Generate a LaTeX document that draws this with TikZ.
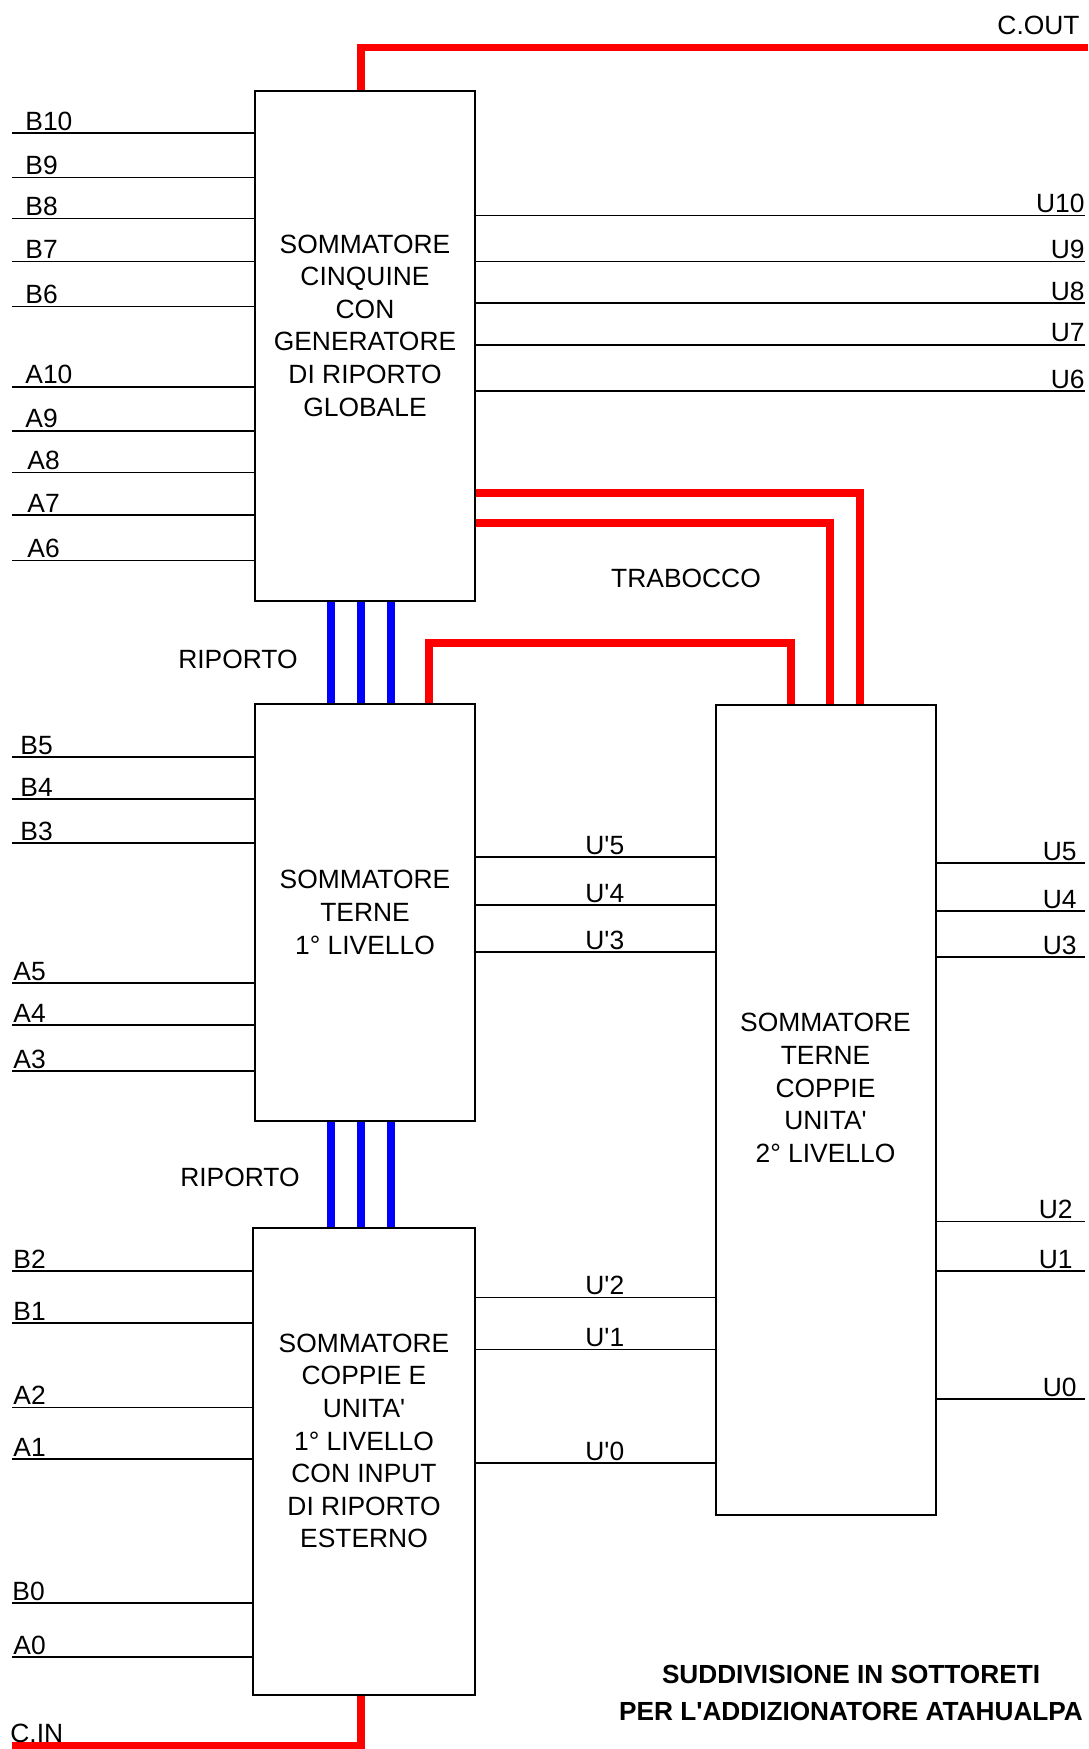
\documentclass[tikz,border=0pt]{standalone}
\usepackage{fontspec}
\setmainfont{Liberation Sans}[Ligatures=TeXOff]
\usetikzlibrary{positioning,calc}
\tikzset{
  blockbox/.style={draw, line width=1pt, minimum width=110pt, inner sep=0pt},
  blocktext/.style={align=center, inner sep=0pt, font=\fontsize{13.2}{16.3}\selectfont},
  wirelab/.style={inner sep=0pt, font=\fontsize{13.2}{14}\selectfont},
  wire/.style={line width=0.75pt},
  carry/.style={draw=red, line width=3.8pt},
  riporto/.style={draw=blue, line width=3.8pt}
}

\begin{document}
\begin{tikzpicture}[x=0.5pt, y=-0.5pt]
\useasboundingbox (0,0) rectangle (1088,1749);

% blocchi
\node[blockbox, minimum height=255pt] (cinq) at (365,346) {};
\node[blocktext] (cinqtxt) at ([yshift=10.25pt]cinq.center) {SOMMATORE\\CINQUINE\\CON\\GENERATORE\\DI RIPORTO\\GLOBALE};
\node[blockbox, minimum height=208.5pt] (terne1) at (365,912.5) {};
\node[blocktext] (terne1txt) at (terne1.center) {SOMMATORE\\TERNE\\1° LIVELLO};
\node[blockbox, minimum width=111pt, minimum height=233.5pt] (coppie1) at (364,1461.5) {};
\node[blocktext] (coppie1txt) at ([yshift=10.25pt]coppie1.center) {SOMMATORE\\COPPIE E\\UNITA'\\1° LIVELLO\\CON INPUT\\DI RIPORTO\\ESTERNO};
\node[blockbox, minimum height=405pt] (terne2) at (825.5,1110) {};
\node[blocktext] (terne2txt) at ([yshift=11pt]terne2.center) {SOMMATORE\\TERNE\\COPPIE\\UNITA'\\2° LIVELLO};

% ingressi A e B
\foreach \lab/\y/\lx in {B10/133.2/25, B9/177.5/25, B8/218.6/25, B7/261.3/25, B6/306.7/25,
    A10/387/25, A9/430.8/25, A8/472.7/27, A7/515/27, A6/560.5/27} {
  \coordinate (w\lab) at (12,\y);
  \draw[wire] (w\lab) -- (w\lab -| cinq.west);
  \node[wirelab, anchor=base west] (l\lab) at (\lx,\y-3) {\lab};
}
\foreach \lab/\y/\lx in {B5/757/20, B4/799/20, B3/843/20, A5/983/13, A4/1025/13, A3/1071/13} {
  \coordinate (w\lab) at (12,\y);
  \draw[wire] (w\lab) -- (w\lab -| terne1.west);
  \node[wirelab, anchor=base west] (l\lab) at (\lx,\y-3) {\lab};
}
\foreach \lab/\y/\lx in {B2/1271/13, B1/1323/13, A2/1407.6/13, A1/1459/13, B0/1603/12, A0/1657/13} {
  \coordinate (w\lab) at (12,\y);
  \draw[wire] (w\lab) -- (w\lab -| coppie1.west);
  \node[wirelab, anchor=base west] (l\lab) at (\lx,\y-3) {\lab};
}

% uscite
\foreach \lab/\y in {U10/215.4, U9/261.3, U8/303.2, U7/345, U6/391} {
  \coordinate (o\lab) at (1085,\y);
  \draw[wire] (cinq.east |- o\lab) -- (o\lab);
  \node[wirelab, anchor=base east] (l\lab) at (1085,\y-3) {\lab};
}
\foreach \lab/\y/\rx in {U5/863/1077, U4/911/1077, U3/957/1077, U2/1221.6/1073, U1/1271/1073, U0/1399/1077} {
  \coordinate (o\lab) at (1085,\y);
  \draw[wire] (terne2.east |- o\lab) -- (o\lab);
  \node[wirelab, anchor=base east] (l\lab) at (\rx,\y-3) {\lab};
}

% uscite intermedie
\foreach \n/\y in {5/857, 4/905, 3/952} {
  \coordinate (p\n) at (585,\y);
  \draw[wire] (terne1.east |- p\n) -- (terne2.west |- p\n);
  \node[wirelab, anchor=base west] (lp\n) at (585,\y-3) {U'\n};
}
\foreach \n/\y in {2/1297.7, 1/1349.7, 0/1463} {
  \coordinate (p\n) at (585,\y);
  \draw[wire] (coppie1.east |- p\n) -- (terne2.west |- p\n);
  \node[wirelab, anchor=base west] (lp\n) at (585,\y-3) {U'\n};
}

% riporti
\foreach \x in {331, 361, 391} {
  \coordinate (rp\x) at (\x,650);
  \draw[riporto] (cinq.south -| rp\x) -- (terne1.north -| rp\x);
  \draw[riporto] (terne1.south -| rp\x) -- (coppie1.north -| rp\x);
}
\node[wirelab] (rip1) at (238,659) {RIPORTO};
\node[wirelab] (rip2) at (240,1177) {RIPORTO};

% trabocco e riporto esterno
\coordinate (cout) at (1088,47.5);
\coordinate (cin) at (12,1745.5);
\coordinate (trA) at (860,493);
\coordinate (trB) at (830,523);
\coordinate (trC) at (429,643);
\coordinate (trD) at (791,643);
\draw[carry] (cinq.north -| rp361) |- (cout);
\draw[carry] (coppie1.south -| rp361) |- (cin);
\draw[carry] (cinq.east |- trA) -| (terne2.north -| trA);
\draw[carry] (cinq.east |- trB) -| (terne2.north -| trB);
\draw[carry] (terne1.north -| trC) -- (trC) -| (terne2.north -| trD);
\node[wirelab, anchor=base east] (lcout) at (1080,35) {C.OUT};
\node[wirelab, anchor=base west] (lcin) at (10,1742) {C.IN};
\node[wirelab] (trab) at (686,578) {TRABOCCO};

% titolo
\node[align=center, inner sep=0pt, font=\bfseries\fontsize{13.1}{18.3}\selectfont] (titolo) at (851,1693)
  {SUDDIVISIONE IN SOTTORETI\\PER L'ADDIZIONATORE ATAHUALPA};
\end{tikzpicture}
\end{document}
